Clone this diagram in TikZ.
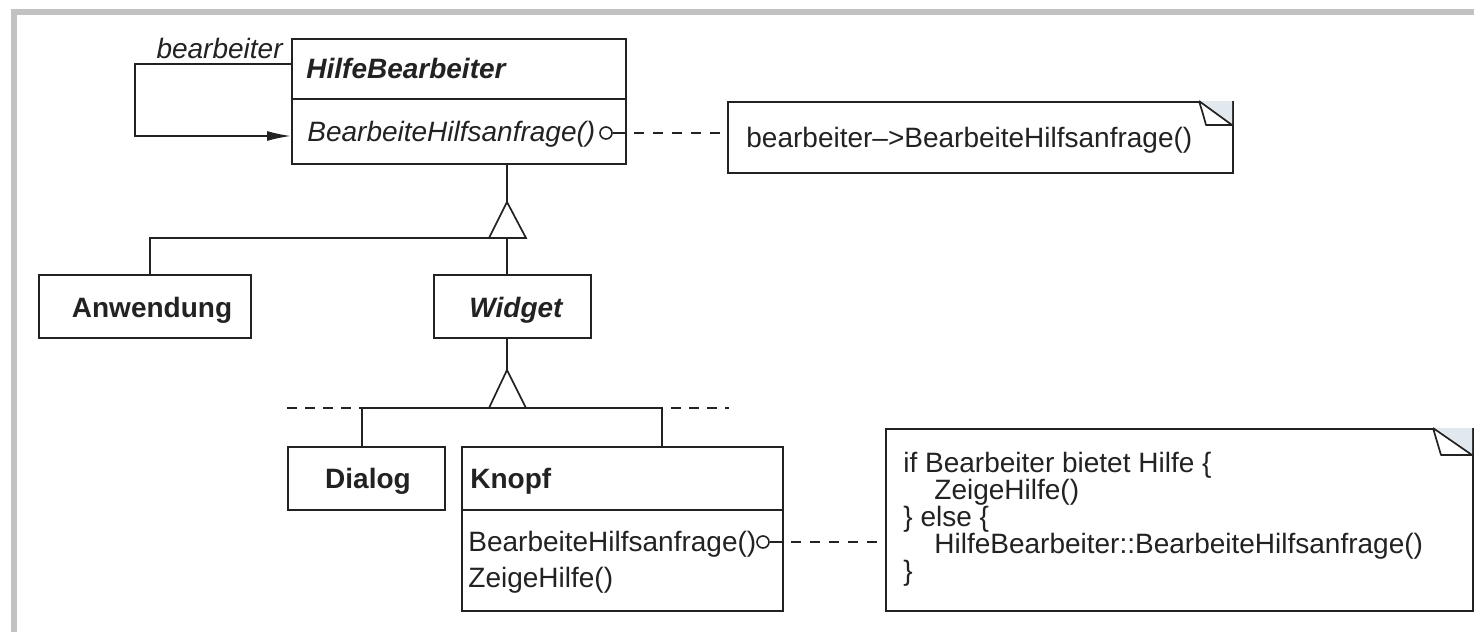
\documentclass[tikz,border=0pt]{standalone}
\usepackage{fontspec}
\setmainfont{Liberation Sans}
\usetikzlibrary{arrows.meta}
\definecolor{ink}{HTML}{222222}
\definecolor{framegrey}{HTML}{C2C2C2}
\definecolor{foldtint}{HTML}{E2E9EE}
\begin{document}
\begin{tikzpicture}[x=0.5pt,y=-0.5pt,
  ln/.style={draw=ink,line width=0.85pt},
  cls/.style={ln,fill=white,inner sep=0pt,anchor=north west},
  txt/.style={inner sep=0pt,text=ink,font=\fontsize{14pt}{16pt}\selectfont},
  lbl/.style={txt,anchor=base west},
  lblb/.style={lbl,font=\fontsize{14pt}{16pt}\selectfont\bfseries},
  lblbc/.style={txt,anchor=base,font=\fontsize{14pt}{16pt}\selectfont\bfseries},
  dsh/.style={ln,dash pattern=on 5pt off 4.5pt,dash phase=5pt},
  gen/.style={ln,fill=white,line join=miter},
  pin/.style={circle,draw=ink,line width=0.8pt,fill=white,inner sep=0pt,minimum size=6pt},
]
\path[use as bounding box,fill=white] (0,0) rectangle (1474,632);
% grey page frame
\fill[framegrey] (11,9) rectangle (1474,14.5);
\fill[framegrey] (11,9) rectangle (16.5,632);

% ---- class HilfeBearbeiter ----
\node[cls,minimum width=167pt,minimum height=62.5pt] (hb) at (291,38) {};
\draw[ln] (291,99) -- (625,99);
\node[lbl,font=\fontsize{14pt}{16pt}\selectfont\bfseries\itshape] (hbname) at (306,78) {HilfeBearbeiter};
\node[lbl,font=\fontsize{14pt}{16pt}\selectfont\itshape] (hbop) at (307,141) {BearbeiteHilfsanfrage()};
\node[txt,anchor=base east,font=\fontsize{14pt}{16pt}\selectfont\itshape] (succ) at (283,58) {bearbeiter};
% successor self-association
\draw[ln,-{Latex[length=12pt,width=5pt]}] ([yshift=-13pt]hb.north west) -- ++(-156,0) -- ++(0,72) -- ([yshift=-49pt]hb.north west);

% note attached to HilfeBearbeiter
\node[cls,minimum width=252.5pt,minimum height=35.5pt] (n1) at (727,101) {};
\fill[foldtint] (1199,101) -- (1232,101) -- (1232,125) -- cycle;
\draw[ln,line join=round] (1199,101) -- (1232,125) -- (1206,125) .. controls (1203,114) .. (1199,101);
\node[lbl] (n1t) at (746,147) {bearbeiter–>BearbeiteHilfsanfrage()};
\node[pin] (c1) at (606,133) {};
\coordinate (c1e) at (625,133);
\draw[ln] (c1.east) -- (c1e);
\draw[dsh] (c1e) -- (c1e -| n1.west);

% ---- first generalization ----
\coordinate (t1) at (507,202);
\coordinate (t1l) at (489,238);
\coordinate (t1r) at (526,238);
\coordinate (t1b) at (507,238);
\draw[ln] (t1 |- hb.south) -- (t1);
\draw[gen] (t1) -- (t1r) -- (t1l) -- cycle;

\node[cls,minimum width=106pt,minimum height=31.5pt] (aw) at (38,274) {};
\node[lblbc] (awt) at (152,317) {Anwendung};
\node[cls,minimum width=78.5pt,minimum height=31.5pt] (wd) at (433,274) {};
\node[lblbc,font=\fontsize{14pt}{16pt}\selectfont\bfseries\itshape] (wdt) at (516,317) {Widget};
\coordinate (awtop) at (150,274);
\draw[ln] (t1l) -| (awtop);
\draw[ln] (t1b) -- (t1b |- wd.north);

% ---- second generalization ----
\coordinate (t2) at (507,370);
\coordinate (t2l) at (489,408);
\coordinate (t2r) at (526,408);
\draw[ln] (t2 |- wd.south) -- (t2);
\draw[gen] (t2) -- (t2r) -- (t2l) -- cycle;

\node[cls,minimum width=78.5pt,minimum height=31.5pt] (dg) at (287,446) {};
\node[lblbc] (dgt) at (368,488) {Dialog};
\node[cls,minimum width=160.5pt,minimum height=82pt] (kp) at (461,446) {};
\draw[ln] (461,510) -- (782,510);
\node[lblb] (kpt) at (470,488) {Knopf};
\node[lbl] (kpop1) at (468,551) {BearbeiteHilfsanfrage()};
\node[lbl] (kpop2) at (468,587) {ZeigeHilfe()};

\coordinate (dgtop) at (362,446);
\coordinate (kptop) at (662,446);
\draw[ln] (dgtop) |- (t2l);
\draw[ln] (t2r) -| (kptop);
\draw[ln,dash pattern=on 5pt off 4pt] (287,408) -- (dgtop |- t2l);
\draw[ln,dash pattern=on 5pt off 4pt] ([xshift=4.5pt]kptop |- t2r) -- (729,408);

% note attached to Knopf
\node[cls,minimum width=293.5pt,minimum height=91pt] (n2) at (885,428) {};
\fill[foldtint] (1433,428) -- (1472,428) -- (1472,455) -- cycle;
\draw[ln,line join=round] (1433,428) -- (1472,455) -- (1441,455) .. controls (1437,442) .. (1433,428);
\node[lbl] (n2a) at (903,472) {if Bearbeiter bietet Hilfe \{};
\node[lbl] (n2b) at (934,499) {ZeigeHilfe()};
\node[lbl] (n2c) at (903,526) {\} else \{};
\node[lbl] (n2d) at (934,553) {HilfeBearbeiter::BearbeiteHilfsanfrage()};
\node[lbl] (n2e) at (903,580) {\}};
\node[pin] (c2) at (763,542) {};
\coordinate (c2e) at (782,542);
\draw[ln] (c2.east) -- (c2e);
\draw[dsh] (c2e) -- (c2e -| n2.west);
\end{tikzpicture}
\end{document}
